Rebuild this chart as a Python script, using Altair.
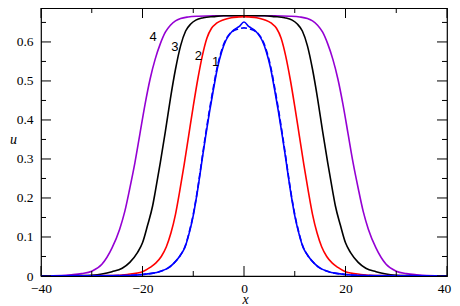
import altair as alt
import pandas as pd

# ---- data (the curves are symmetric about x = 0) ----
x4 = [-40, -36, -34, -32, -30, -28, -26, -24.5, -23.5, -22.5, -21.5, -20.5, -19.5, -18.5, -17.5, -16.5, -15.5,
      -14.5, -13.5, -12.5, -11, -9, -6, 0, 6, 9, 11, 12.5, 13.5, 14.5, 15.5, 16.5, 17.5, 18.5, 19.5, 20.5, 21.5,
      22.5, 23.5, 24.5, 26, 28, 30, 32, 34, 36, 40]
u4 = [0, 0.001, 0.003, 0.006, 0.012, 0.03, 0.072, 0.12, 0.165, 0.225, 0.29, 0.365, 0.44, 0.505, 0.556, 0.595, 0.625,
      0.643, 0.654, 0.66, 0.664, 0.666, 0.667, 0.667, 0.667, 0.666, 0.664, 0.66, 0.654, 0.643, 0.625, 0.595, 0.556,
      0.505, 0.44, 0.365, 0.29, 0.225, 0.165, 0.12, 0.072, 0.03, 0.012, 0.006, 0.003, 0.001, 0]

x3 = [-40, -32, -30, -28, -26, -24, -22.5, -21, -20, -19, -18, -17.5, -16.5, -15.5, -14.5, -13.5, -12.5, -11.5,
      -10.5, -9.5, -8, -6, -4, 0, 4, 6, 8, 9.5, 10.5, 11.5, 12.5, 13.5, 14.5, 15.5, 16.5, 17.5, 18, 19, 20, 21,
      22.5, 24, 26, 28, 30, 32, 40]
u3 = [0, 0.001, 0.002, 0.005, 0.011, 0.02, 0.035, 0.06, 0.085, 0.13, 0.18, 0.215, 0.29, 0.37, 0.455, 0.53, 0.59,
      0.628, 0.646, 0.656, 0.662, 0.665, 0.667, 0.667, 0.667, 0.665, 0.662, 0.656, 0.646, 0.628, 0.59, 0.53, 0.455,
      0.37, 0.29, 0.215, 0.18, 0.13, 0.085, 0.06, 0.035, 0.02, 0.011, 0.005, 0.002, 0.001, 0]

x2 = [-40, -26, -23, -20, -18.5, -17.4, -16.3, -15.3, -14.4, -13.5, -12.7, -11.8, -10.9, -10, -9.1, -8.2, -7.3,
      -6.4, -5.4, -4, -2.5, -1, 0, 1, 2.5, 4, 5.4, 6.4, 7.3, 8.2, 9.1, 10, 10.9, 11.8, 12.7, 13.5, 14.4, 15.3,
      16.3, 17.4, 18.5, 20, 23, 26, 40]
u2 = [0, 0.001, 0.004, 0.011, 0.022, 0.033, 0.05, 0.075, 0.11, 0.158, 0.215, 0.285, 0.36, 0.435, 0.505, 0.565,
      0.61, 0.635, 0.648, 0.657, 0.662, 0.664, 0.665, 0.664, 0.662, 0.657, 0.648, 0.635, 0.61, 0.565, 0.505, 0.435,
      0.36, 0.285, 0.215, 0.158, 0.11, 0.075, 0.05, 0.033, 0.022, 0.011, 0.004, 0.001, 0]

x1 = [-40, -24, -20, -16.7, -15, -13.8, -12.6, -11.6, -10.8, -10, -9.2, -8.4, -7.6, -6.8, -6, -5.2, -4.4, -3.6,
      -2.8, -2, -1, 0, 1, 2, 2.8, 3.6, 4.4, 5.2, 6, 6.8, 7.6, 8.4, 9.2, 10, 10.8, 11.6, 12.6, 13.8, 15, 16.7, 20,
      24, 40]
u1 = [0, 0.001, 0.004, 0.011, 0.02, 0.033, 0.052, 0.075, 0.11, 0.155, 0.215, 0.285, 0.355, 0.42, 0.48, 0.535,
      0.575, 0.603, 0.62, 0.631, 0.639, 0.651, 0.639, 0.631, 0.62, 0.603, 0.575, 0.535, 0.48, 0.42, 0.355, 0.285,
      0.215, 0.155, 0.11, 0.075, 0.052, 0.033, 0.02, 0.011, 0.004, 0.001, 0]

x1d = x1
u1d = [0, 0.001, 0.004, 0.011, 0.02, 0.033, 0.052, 0.076, 0.112, 0.158, 0.218, 0.289, 0.36, 0.426, 0.486, 0.54,
       0.579, 0.606, 0.621, 0.629, 0.634, 0.636, 0.634, 0.629, 0.621, 0.606, 0.579, 0.54, 0.486, 0.426, 0.36,
       0.289, 0.218, 0.158, 0.112, 0.076, 0.052, 0.033, 0.02, 0.011, 0.004, 0.001, 0]

label_text = ["1", "2", "3", "4"]
label_x = [-5.6, -9.0, -13.6, -17.9]
label_u = [0.549, 0.564, 0.587, 0.613]

x_major = [-40, -20, 0, 20, 40]
x_minor = [-30, -10, 10, 30]
u_major = [0, 0.1, 0.2, 0.3, 0.4, 0.5, 0.6]
u_minor = [0.05, 0.15, 0.25, 0.35, 0.45, 0.55, 0.65]

W, H = 406, 268
XDOM = [-40, 40]
UDOM = [0, 0.687]

def curve(xs, us, name):
    return pd.DataFrame({"x": xs, "u": us, "s": name})

xsc = alt.Scale(domain=XDOM, nice=False, zero=False)
ysc = alt.Scale(domain=UDOM, nice=False, zero=False)

xaxis = alt.Axis(values=x_major, tickSize=0, domain=False, grid=False, labelPadding=5,
                 labelFont="Liberation Serif", labelFontSize=13.5, labelColor="black",
                 labelOffset=alt.condition("datum.value == 40", alt.value(-3), alt.value(0)),
                 title="x", titleFont="Liberation Serif", titleFontStyle="italic", titleFontWeight="normal",
                 titleFontSize=14, titleColor="black", titleX=204, titleY=27, titleBaseline="alphabetic",
                 titleAlign="center", labelFlush=False)
yaxis = alt.Axis(values=u_major, tickSize=0, domain=False, grid=False, labelPadding=8,
                 labelFont="Liberation Serif", labelFontSize=13.5, labelColor="black", format="g",
                 title="u", titleFont="Liberation Serif", titleFontStyle="italic", titleFontWeight="normal",
                 titleFontSize=14, titleColor="black", titleAngle=0, titleX=-28, titleY=131,
                 titleBaseline="middle", titleAlign="center", labelFlush=False)

def line_layer(df, color, dash=None):
    kw = dict(color=color, strokeWidth=1.6, clip=True, interpolate="monotone")
    if dash:
        kw["strokeDash"] = dash
    return alt.Chart(df).mark_line(**kw).encode(
        x=alt.X("x:Q", scale=xsc, axis=xaxis),
        y=alt.Y("u:Q", scale=ysc, axis=yaxis),
    )

layers = [
    line_layer(curve(x4, u4, "4"), "#9400d3"),
    line_layer(curve(x3, u3, "3"), "black"),
    line_layer(curve(x2, u2, "2"), "#ff0000"),
    line_layer(curve(x1, u1, "1"), "#0000ff"),
    line_layer(curve(x1d, u1d, "1d"), "#0000ff", [6, 3]),
]

labels = alt.Chart(pd.DataFrame({"x": label_x, "u": label_u, "t": label_text})).mark_text(
    font="Liberation Sans", fontSize=13, color="black", align="center", baseline="middle"
).encode(x=alt.X("x:Q", scale=xsc, axis=xaxis), y=alt.Y("u:Q", scale=ysc, axis=yaxis), text="t:N")
layers.append(labels)

def xticks(vals, length):
    df = pd.DataFrame({"x": vals})
    bottom = alt.Chart(df).mark_rule(color="black", strokeWidth=1).encode(
        x=alt.X("x:Q", scale=xsc, axis=xaxis), y=alt.value(H), y2=alt.value(H - length))
    top = alt.Chart(df).mark_rule(color="black", strokeWidth=1).encode(
        x=alt.X("x:Q", scale=xsc, axis=xaxis), y=alt.value(0), y2=alt.value(length))
    return [bottom, top]

def yticks(vals, length):
    df = pd.DataFrame({"u": vals})
    left = alt.Chart(df).mark_rule(color="black", strokeWidth=1).encode(
        y=alt.Y("u:Q", scale=ysc, axis=yaxis), x=alt.value(0), x2=alt.value(length))
    right = alt.Chart(df).mark_rule(color="black", strokeWidth=1).encode(
        y=alt.Y("u:Q", scale=ysc, axis=yaxis), x=alt.value(W), x2=alt.value(W - length))
    return [left, right]

layers += xticks(x_major, 10) + xticks(x_minor, 5) + yticks(u_major, 10) + yticks(u_minor, 5)

chart = alt.layer(*layers).properties(
    width=W, height=H,
    autosize=alt.AutoSizeParams(type="none"),
    padding={"left": 33, "top": 0, "right": 5, "bottom": 30},
    background="white",
).configure_view(stroke="black", strokeWidth=1.2)

chart.save("out.html", embed_options={"renderer": "svg", "actions": False})
